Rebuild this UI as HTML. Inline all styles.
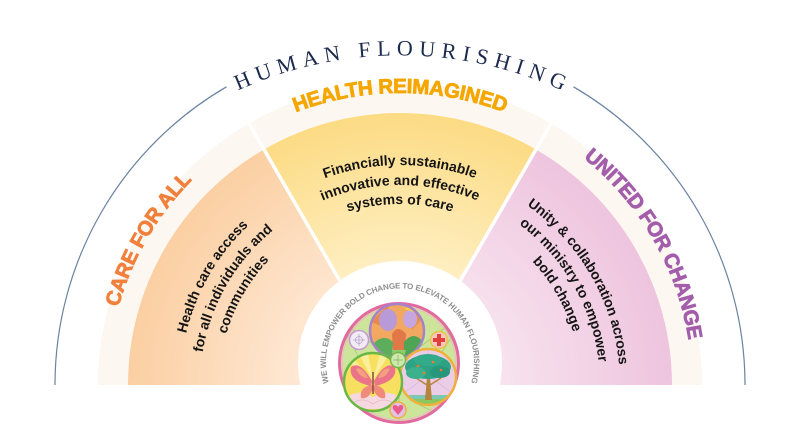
<!DOCTYPE html>
<html>
<head>
<meta charset="utf-8">
<style>
  html,body{margin:0;padding:0;background:#fff;width:800px;height:440px;overflow:hidden;}
  #wrap{position:relative;width:800px;height:440px;overflow:hidden;}
  svg{display:block;position:absolute;left:0;top:0;}
  .ttl{font-family:"Liberation Serif",serif;font-size:22px;fill:#1c2a4e;letter-spacing:6.2px;}
  .lbl{font-family:"Liberation Sans",sans-serif;font-weight:bold;font-size:20.5px;letter-spacing:-0.3px;stroke-width:0.8px;}
  .body{font-family:"Liberation Sans",sans-serif;font-weight:bold;font-size:14px;fill:#141414;}
  .ring{font-family:"Liberation Sans",sans-serif;font-weight:bold;font-size:8px;fill:#8d8d8d;letter-spacing:-0.15px;}
</style>
</head>
<body>
<div id="wrap">
<svg width="800" height="440" viewBox="0 0 800 440" xmlns="http://www.w3.org/2000/svg" overflow="hidden">
  <defs>
    <radialGradient id="gL" gradientUnits="userSpaceOnUse" cx="400" cy="385" r="272">
      <stop offset="0.35" stop-color="#fee9d6"/>
      <stop offset="1" stop-color="#fbcfa2"/>
    </radialGradient>
    <radialGradient id="gM" gradientUnits="userSpaceOnUse" cx="400" cy="385" r="272">
      <stop offset="0.4" stop-color="#fef0c6"/>
      <stop offset="1" stop-color="#fcdb84"/>
    </radialGradient>
    <radialGradient id="gR" gradientUnits="userSpaceOnUse" cx="400" cy="385" r="272">
      <stop offset="0.35" stop-color="#f8e4ef"/>
      <stop offset="1" stop-color="#eec4de"/>
    </radialGradient>

    <path id="pTitle" d="M13,385 A392,392 0 0 1 787,385"/>

    <path id="oL" d="M109.11,410.45 A292,292 0 0 1 276.59,120.36"/>
    <path id="oM" d="M232.51,145.81 A292,292 0 0 1 567.49,145.81"/>
    <path id="oR" d="M523.41,120.36 A292,292 0 0 1 690.89,410.45"/>

    <path id="aL" d="M180.84,404.18 A220,220 0 0 1 307.02,185.61"/>
    <path id="aM" d="M273.81,204.79 A220,220 0 0 1 526.19,204.79"/>
    <path id="aR" d="M492.98,185.61 A220,220 0 0 1 619.16,404.18"/>

    <path id="bL" d="M200.76,402.43 A200,200 0 0 1 315.48,203.74"/>
    <path id="bM" d="M285.28,221.17 A200,200 0 0 1 514.72,221.17"/>
    <path id="bR" d="M484.52,203.74 A200,200 0 0 1 599.24,402.43"/>

    <path id="cL" d="M219.69,400.78 A181,181 0 0 1 323.51,220.96"/>
    <path id="cM" d="M296.18,236.73 A181,181 0 0 1 503.82,236.73"/>
    <path id="cR" d="M476.49,220.96 A181,181 0 0 1 580.31,400.78"/>

    <path id="pRing" d="M330.4,387.5 A74,74 0 1 1 469.6,387.5"/>

    <clipPath id="cMed"><circle cx="399" cy="363" r="59"/></clipPath>
    <clipPath id="cTop"><circle cx="397" cy="331" r="26"/></clipPath>
    <clipPath id="cLeft"><circle cx="373" cy="382" r="28"/></clipPath>
    <clipPath id="cRight"><circle cx="428" cy="377" r="27"/></clipPath>
  </defs>

  <!-- outer thin arc -->
  <path d="M55,385 A345,345 0 0 1 226.5,86.8" fill="none" stroke="#6a82a0" stroke-width="1.2"/>
  <path d="M573.5,86.8 A345,345 0 0 1 745,385" fill="none" stroke="#6a82a0" stroke-width="1.2"/>

  <!-- title -->
  <text class="ttl"><textPath href="#pTitle" startOffset="50.3%" text-anchor="middle">HUMAN FLOURISHING</textPath></text>

  <!-- cream band -->
  <path d="M98,385 A302,302 0 0 1 702,385 Z" fill="#fcf7f1"/>

  <!-- sectors -->
  <path d="M400,385 L128,385 A272,272 0 0 1 264,149.44 Z" fill="url(#gL)"/>
  <path d="M400,385 L264,149.44 A272,272 0 0 1 536,149.44 Z" fill="url(#gM)"/>
  <path d="M400,385 L536,149.44 A272,272 0 0 1 672,385 Z" fill="url(#gR)"/>

  <!-- dividers -->
  <line x1="400" y1="385" x2="247.5" y2="120.9" stroke="#fff" stroke-width="3.5"/>
  <line x1="400" y1="385" x2="552.5" y2="120.9" stroke="#fff" stroke-width="3.5"/>

  <!-- white center circle -->
  <circle cx="400" cy="363" r="102" fill="#fff"/>

  <!-- outer labels -->
  <text class="lbl" fill="#f5a700" stroke="#f5a700"><textPath href="#oM" startOffset="50%" text-anchor="middle">HEALTH REIMAGINED</textPath></text>
  <text class="lbl" fill="#f0803c" stroke="#f0803c"><textPath href="#oL" startOffset="50%" text-anchor="middle">CARE FOR ALL</textPath></text>
  <text class="lbl" fill="#a35dab" stroke="#a35dab"><textPath href="#oR" startOffset="50%" text-anchor="middle">UNITED FOR CHANGE</textPath></text>

  <!-- middle body -->
  <text class="body"><textPath href="#aM" startOffset="50%" text-anchor="middle">Financially sustainable</textPath></text>
  <text class="body"><textPath href="#bM" startOffset="50%" text-anchor="middle">innovative and effective</textPath></text>
  <text class="body"><textPath href="#cM" startOffset="50%" text-anchor="middle">systems of care</textPath></text>

  <!-- left body -->
  <text class="body"><textPath href="#aL" startOffset="50%" text-anchor="middle">Health care access</textPath></text>
  <text class="body"><textPath href="#bL" startOffset="50%" text-anchor="middle">for all individuals and</textPath></text>
  <text class="body"><textPath href="#cL" startOffset="50%" text-anchor="middle">communities</textPath></text>

  <!-- right body -->
  <text class="body"><textPath href="#aR" startOffset="50%" text-anchor="middle">Unity &amp; collaboration across</textPath></text>
  <text class="body"><textPath href="#bR" startOffset="50%" text-anchor="middle">our ministry to empower</textPath></text>
  <text class="body"><textPath href="#cR" startOffset="50%" text-anchor="middle">bold change</textPath></text>

  <!-- ring text -->
  <text class="ring"><textPath href="#pRing" startOffset="50%" text-anchor="middle">WE WILL EMPOWER BOLD CHANGE TO ELEVATE HUMAN FLOURISHING</textPath></text>

  <!-- medallion -->
  <circle cx="399" cy="363" r="59.5" fill="#cde59a"/>
  <g clip-path="url(#cMed)" stroke="#9fca6c" stroke-width="0.8" fill="none">
    <line x1="399" y1="363" x2="340" y2="320"/>
    <line x1="399" y1="363" x2="345" y2="405"/>
    <line x1="399" y1="363" x2="458" y2="318"/>
    <line x1="399" y1="363" x2="455" y2="410"/>
    <line x1="399" y1="363" x2="399" y2="300"/>
    <line x1="399" y1="363" x2="399" y2="422"/>
    <line x1="340" y1="350" x2="365" y2="305"/>
    <line x1="432" y1="305" x2="458" y2="350"/>
    <line x1="345" y1="330" x2="360" y2="360"/>
    <line x1="440" y1="355" x2="456" y2="330"/>
    <line x1="360" y1="415" x2="390" y2="400"/>
    <line x1="410" y1="400" x2="440" y2="415"/>
  </g>
  <circle cx="399" cy="363" r="59.5" fill="none" stroke="#e36aa0" stroke-width="3"/>
  <circle cx="399" cy="363" r="56.8" fill="none" stroke="#f3b6cc" stroke-width="1"/>

  <!-- top circle -->
  <circle cx="397" cy="331" r="27" fill="#f1a35a"/>
  <g clip-path="url(#cTop)">
    <rect x="371" y="305" width="52" height="52" fill="#f2a860"/>
    <path d="M371,322 L388,305 L392,330 Z" fill="#e8884a"/>
    <path d="M406,305 L423,318 L412,330 Z" fill="#e99050"/>
    <ellipse cx="388" cy="320" rx="9" ry="11" fill="#b99ad8"/>
    <ellipse cx="410" cy="319" rx="7" ry="9" fill="#c7a6e0"/>
    <path d="M404,309 l8,-4 l5,8 z" fill="#f5d040"/>
    <path d="M392,334 Q398,324 406,334 L405,350 L393,350 Z" fill="#e07848"/>
    <path d="M371,346 Q383,332 393,342 L392,357 L371,357 Z" fill="#5cae5c"/>
    <path d="M404,342 Q414,330 423,342 L423,357 L404,357 Z" fill="#4fa455"/>
    <path d="M392,350 L406,350 L404,357 L394,357 Z" fill="#8ccf6a"/>
  </g>
  <circle cx="397" cy="331" r="27" fill="none" stroke="#a681cc" stroke-width="2.5"/>

  <!-- right circle (tree) -->
  <circle cx="428" cy="377" r="28" fill="#ebcde8"/>
  <g clip-path="url(#cRight)">
    <g stroke="#d9b2d6" stroke-width="0.7">
      <line x1="401" y1="356" x2="455" y2="395"/>
      <line x1="455" y1="356" x2="401" y2="395"/>
      <line x1="428" y1="350" x2="428" y2="404"/>
    </g>
    <rect x="401" y="395" width="54" height="5" fill="#7cc8b4"/>
    <rect x="401" y="399" width="54" height="5" fill="#8cc65e"/>
    <path d="M425,400 L427,377 L430,377 L432,400 Z" fill="#b5843f"/>
    <path d="M427,385 L416,378 M430,385 L441,378" stroke="#b5843f" stroke-width="1.5"/>
    <ellipse cx="428" cy="367" rx="23" ry="12" fill="#2ea383"/>
    <ellipse cx="416" cy="373" rx="10" ry="6" fill="#3bb08c"/>
    <ellipse cx="440" cy="372" rx="10" ry="6" fill="#27967a"/>
    <ellipse cx="428" cy="360" rx="14" ry="6" fill="#34ab88"/>
    <circle cx="418" cy="366" r="1.3" fill="#f07a30"/>
    <circle cx="433" cy="362" r="1.3" fill="#f07a30"/>
    <circle cx="441" cy="370" r="1.3" fill="#f07a30"/>
    <circle cx="424" cy="373" r="1.3" fill="#f07a30"/>
  </g>
  <circle cx="428" cy="377" r="28" fill="none" stroke="#f0b13a" stroke-width="2.5"/>

  <!-- left circle (butterfly) -->
  <circle cx="373" cy="382" r="29" fill="#f7e060"/>
  <g clip-path="url(#cLeft)">
    <path d="M373,380 L346,360 L349,354 Z" fill="#fbef9e"/>
    <path d="M373,380 L360,356 L368,354 Z" fill="#fbef9e"/>
    <path d="M373,380 L380,354 L388,356 Z" fill="#fbef9e"/>
    <path d="M373,380 L398,358 L400,364 Z" fill="#fbef9e"/>
    <path d="M346,398 Q358,388 373,397 Q388,388 400,398 L400,409 L346,409 Z" fill="#f6d8e0"/>
    <path d="M352,404 Q362,396 373,404 Q384,396 394,404" fill="none" stroke="#e8b8c8" stroke-width="0.8"/>
    <path d="M372,381 Q360,360 351,367 Q348,381 371,386 Z" fill="#ec7488"/>
    <path d="M374,381 Q386,360 395,367 Q398,381 375,386 Z" fill="#ec7488"/>
    <path d="M356,369 Q362,366 368,378 Q360,378 356,369 Z" fill="#f4a080"/>
    <path d="M390,369 Q384,366 378,378 Q386,378 390,369 Z" fill="#f4a080"/>
    <path d="M372,385 Q359,387 361,398 Q368,400 373,389 Z" fill="#f08a7a"/>
    <path d="M374,385 Q387,387 385,398 Q378,400 373,389 Z" fill="#f08a7a"/>
    <line x1="373" y1="372" x2="373" y2="394" stroke="#8a4a40" stroke-width="1.5"/>
  </g>
  <circle cx="373" cy="382" r="29" fill="none" stroke="#69b845" stroke-width="2.5"/>

  <!-- small circles -->
  <circle cx="359" cy="340" r="9.5" fill="#f1ebf6" stroke="#c79ad0" stroke-width="1.5"/>
  <g stroke="#b7a0c8" stroke-width="0.7" fill="none">
    <circle cx="359" cy="340" r="3.5"/>
    <line x1="353" y1="340" x2="365" y2="340"/>
    <line x1="359" y1="334" x2="359" y2="346"/>
  </g>
  <circle cx="439" cy="340" r="8.5" fill="#f7c6c0" stroke="#e9c445" stroke-width="1.5"/>
  <path d="M437,334 h4 v4 h4 v4 h-4 v4 h-4 v-4 h-4 v-4 h4 z" fill="#e2403a"/>
  <circle cx="398" cy="360" r="7.5" fill="#cfe8b0" stroke="#74b84a" stroke-width="1.5"/>
  <g stroke="#7ab050" stroke-width="0.7">
    <line x1="393" y1="360" x2="403" y2="360"/>
    <line x1="398" y1="355" x2="398" y2="365"/>
  </g>
  <circle cx="398" cy="410" r="8" fill="#e4c2e8" stroke="#eeb040" stroke-width="1.5"/>
  <path d="M398,415 L393,409 Q392,405 395,405 Q397,405 398,407 Q399,405 401,405 Q404,405 403,409 Z" fill="#e85b8c"/>
</svg>
</div>
</body>
</html>
